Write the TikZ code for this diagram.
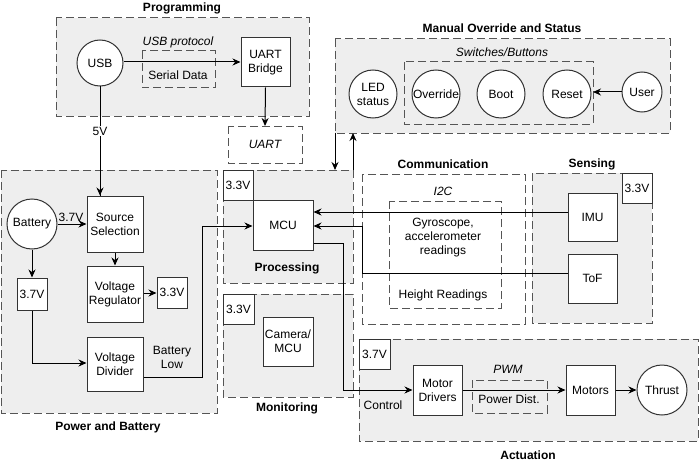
\documentclass[tikz,border=0pt]{standalone}
\usepackage{fontspec}
\setmainfont{Liberation Sans}
\usetikzlibrary{arrows.meta}
\definecolor{grpfill}{HTML}{EEEEEE}
\definecolor{grpline}{HTML}{555555}
\definecolor{boxline}{HTML}{333333}
\begin{document}
\begin{tikzpicture}[x=1pt,y=-1pt,
  every node/.style={font=\fontsize{12}{14}\selectfont, text=black},
  grp/.style={draw=grpline, dash pattern=on 8pt off 4pt, line width=1pt, fill=grpfill},
  dbox/.style={draw=grpline, dash pattern=on 8pt off 4pt, line width=1pt},
  blk/.style={draw=boxline, line width=1pt, fill=white, inner sep=0pt, align=center},
  sz/.style 2 args={minimum width=#1, minimum height=#2},
  circ/.style={circle, draw=boxline, line width=1pt, fill=white, inner sep=0pt, align=center, minimum size=#1},
  ttl/.style={font=\bfseries\fontsize{12}{14}\selectfont},
  itl/.style={font=\itshape\fontsize{12}{14}\selectfont},
  txt/.style={align=center, inner sep=1pt},
  arr/.style={-{Stealth[length=8pt,width=7pt]}, line width=1pt},
  ln/.style={line width=1pt},
]
\useasboundingbox (0,0) rectangle (700,468);
\fill[white] (0,0) rectangle (700,468);

% ---------- groups ----------
\draw[grp] (56,18) rectangle (309,116);
\node[ttl] (tprog) at (182,8) {Programming};
\draw[dbox] (142,51) rectangle (215,88);
\draw[dbox] (228,126) rectangle (302,163);

\draw[grp] (335,39) rectangle (670,133);
\node[ttl] (tman) at (502,28) {Manual Override and Status};
\draw[dbox] (404,62) rectangle (593,124);
\coordinate (swE) at (593,92);

\draw[grp] (1,170) rectangle (217,413);
\node[ttl] (tpow) at (108,427) {Power and Battery};

\draw[grp] (223,170) rectangle (353,283);
\node[ttl] (tproc) at (287,268) {Processing};

\draw[grp] (223,294) rectangle (353,397);
\node[ttl] (tmon) at (287,408) {Monitoring};

\draw[dbox] (362,174) rectangle (525,324);
\node[ttl] (tcom) at (443,164) {Communication};
\draw[dbox] (389,201) rectangle (501,308);

\draw[grp] (532,173) rectangle (652,323);
\node[ttl] (tsen) at (592,164) {Sensing};

\draw[grp] (359,339) rectangle (698,441);
\node[ttl] (tact) at (528,455) {Actuation};
\draw[dbox] (472,380) rectangle (547,413);

% ---------- nodes ----------
\node[circ=46pt] (usb) at (100,63) {USB};
\node[blk, sz={49pt}{49pt}] (uartb) at (265.5,62.5) {UART\\Bridge};
\node[itl] (usbp) at (178,42) {USB protocol};
\node[txt] (serial) at (178,75) {Serial Data};
\node[itl] (uart) at (265,144.5) {UART};
\coordinate (uartT) at (265,126);

\node[circ=48pt] (led) at (373,94) {LED\\status};
\node[circ=48pt] (ovr) at (436,94) {Override};
\node[circ=48pt] (boot) at (501,94) {Boot};
\node[circ=48pt] (reset) at (567,94) {Reset};
\node[circ=40pt] (user) at (642,92) {User};
\node[itl] (swb) at (502,52) {Switches/Buttons};

\node[circ=50pt] (bat) at (32,224) {Battery};
\node[blk, sz={56pt}{56pt}] (src) at (115,224) {Source\\Selection};
\node[blk, sz={56pt}{56pt}] (reg) at (115,294) {Voltage\\Regulator};
\node[blk, sz={30pt}{31pt}] (v33a) at (172,292.5) {3.3V};
\node[blk, sz={30pt}{32pt}] (v37a) at (32,294) {3.7V};
\node[blk, sz={56pt}{54pt}] (div) at (115,364) {Voltage\\Divider};
\node[txt] (blow) at (172,357) {Battery\\Low};

\node[blk, sz={30pt}{30pt}] (v33p) at (238,185) {3.3V};
\node[blk, sz={60pt}{50pt}] (mcu) at (283,225) {MCU};

\node[blk, sz={31pt}{30pt}] (v33m) at (238.5,309) {3.3V};
\node[blk, sz={50pt}{49pt}] (cam) at (288,341.5) {Camera/\\MCU};

\node[itl] (i2c) at (443,191) {I2C};
\node[txt] (gyro) at (443,238) {Gyroscope,\\accelerometer\\readings};
\node[txt] (hgt) at (443,295) {Height Readings};

\node[blk, sz={30pt}{30pt}] (v33s) at (637,188) {3.3V};
\node[blk, sz={49pt}{48pt}] (imu) at (592.5,217) {IMU};
\node[blk, sz={49pt}{49pt}] (tof) at (592.5,278.5) {ToF};

\node[blk, sz={31pt}{30pt}] (v37act) at (374.5,354) {3.7V};
\node[blk, sz={49pt}{50pt}] (drv) at (437.5,390) {Motor\\Drivers};
\node[itl] (pwm) at (508,369) {PWM};
\node[txt] (pdist) at (509,399) {Power Dist.};
\node[blk, sz={49pt}{50pt}] (mot) at (590.5,390) {Motors};
\node[circ=50pt] (thr) at (662,390) {Thrust};
\node[txt] (ctrl) at (383,405) {Control};

% helper coordinates
\coordinate (y62) at (0,62);
\coordinate (y212) at (0,212);
\coordinate (y226) at (0,226);
\coordinate (y243) at (0,243);
\coordinate (y273) at (0,273);
\coordinate (y293) at (0,293);
\coordinate (y363) at (0,363);
\coordinate (y377) at (0,377);
\coordinate (x100) at (100,0);
\coordinate (moT) at (335,133);
\coordinate (moB) at (353,133);
\coordinate (prT) at (335,170);
\coordinate (prR) at (353,170);

% ---------- connectors ----------
\draw[arr] (usb.east |- y62) -- (uartb.west |- y62);
\draw[arr] (uartb.south) -- (uartT);
\draw[ln] (usb.south) -- (x100 |- src.north) coordinate (srcT);
\draw[arr] (usb.south) -- (srcT);
\node[fill=white, inner sep=1pt] (l5v) at (100,131) {5V};

\draw[arr] (user.west) -- (swE);
\draw[arr] (moT) -- (prT);
\draw[arr] (prR) -- (moB);

\draw[arr] (bat.east) -- (src.west);
\node[inner sep=0pt] (l37) at (71,217) {3.7V};
\draw[arr] (src.south) -- (reg.north);
\draw[arr] (reg.east |- y293) -- (v33a.west |- y293);
\draw[arr] (bat.south) -- (v37a.north);
\draw[arr] (v37a.south) -- (v37a.south |- y363) -- (div.west |- y363);
\draw[arr] (div.east |- y377) -- (202,377) -- (202,226) -- (mcu.west |- y226);

\draw[arr] (imu.west |- y212) -- (mcu.east |- y212);
\draw[arr] (tof.west |- y273) -- (362,273) -- (362,226) -- (mcu.east |- y226);
\draw[arr] (mcu.east |- y243) -- (343,243) -- (343,390) -- (drv.west);

\draw[arr] (drv.east) -- (mot.west);
\draw[arr] (mot.east) -- (thr.west);
\end{tikzpicture}
\end{document}
